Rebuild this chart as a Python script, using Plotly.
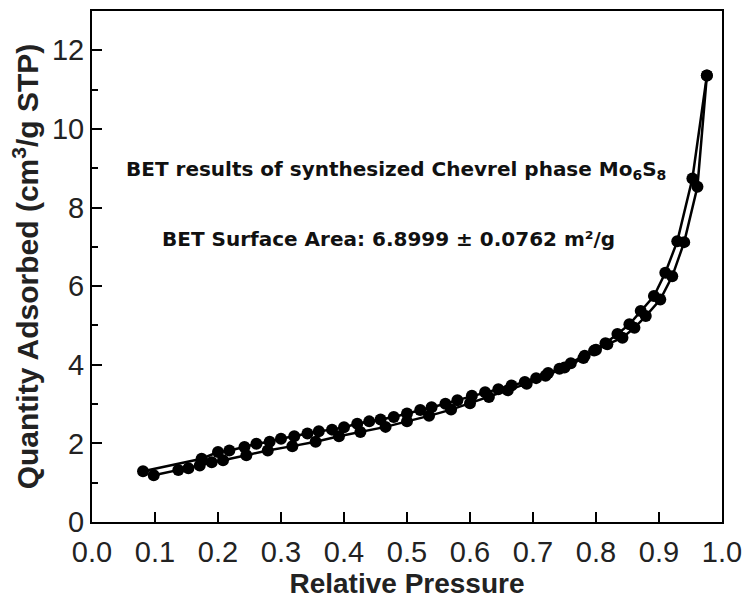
import plotly.graph_objects as go

# Nitrogen physisorption isotherm of Mo6S8 (Chevrel phase)
p_ads = [0.098, 0.137, 0.153, 0.171, 0.190, 0.208, 0.245, 0.279, 0.318, 0.355,
         0.392, 0.426, 0.466, 0.500, 0.535, 0.570, 0.600, 0.630, 0.660, 0.690,
         0.720, 0.750, 0.780, 0.800, 0.818, 0.842, 0.861, 0.879, 0.902, 0.921,
         0.940, 0.961, 0.976]
q_ads = [1.19, 1.32, 1.37, 1.44, 1.52, 1.57, 1.70, 1.82, 1.93, 2.04,
         2.18, 2.29, 2.42, 2.56, 2.70, 2.86, 3.02, 3.18, 3.35, 3.52,
         3.72, 3.93, 4.17, 4.38, 4.52, 4.69, 4.94, 5.24, 5.66, 6.25,
         7.12, 8.53, 11.36]

p_des = [0.976, 0.953, 0.929, 0.910, 0.892, 0.871, 0.853, 0.834, 0.815, 0.797,
         0.782, 0.760, 0.742, 0.724, 0.705, 0.687, 0.666, 0.645, 0.624, 0.603,
         0.580, 0.561, 0.539, 0.521, 0.500, 0.479, 0.458, 0.440, 0.421, 0.400,
         0.381, 0.360, 0.342, 0.321, 0.300, 0.282, 0.261, 0.242, 0.218, 0.200,
         0.174, 0.081]
q_des = [11.36, 8.74, 7.14, 6.34, 5.75, 5.37, 5.03, 4.78, 4.55, 4.36,
         4.23, 4.04, 3.90, 3.79, 3.66, 3.56, 3.47, 3.38, 3.30, 3.21,
         3.10, 3.01, 2.92, 2.85, 2.76, 2.67, 2.61, 2.56, 2.50, 2.41,
         2.35, 2.31, 2.25, 2.18, 2.12, 2.04, 1.99, 1.91, 1.82, 1.78,
         1.61, 1.29]

x_ticks = [round(0.1 * i, 1) for i in range(11)]
y_ticks = [0, 2, 4, 6, 8, 10, 12]

FONT = "Liberation Sans, Arial, sans-serif"
WIDE_BOLD = "DejaVu Sans, Liberation Sans, sans-serif"

fig = go.Figure()
for px, qy, name in [(p_ads, q_ads, "Adsorption"), (p_des, q_des, "Desorption")]:
    fig.add_trace(go.Scatter(
        x=px, y=qy, name=name, mode="lines+markers",
        line=dict(color="black", width=2.5),
        marker=dict(symbol="circle", size=12, color="black"),
        showlegend=False,
    ))

axis_common = dict(
    showline=True, linecolor="black", linewidth=2, mirror=True,
    ticks="inside", ticklen=10, tickwidth=2, tickcolor="black",
    showgrid=False, zeroline=False,
    tickfont=dict(family=FONT, size=29, color="#222"),
)

fig.update_xaxes(
    range=[0, 1], tickvals=x_ticks, ticktext=[f"{v:.1f}" for v in x_ticks],
    ticklabelstandoff=3,
    title=dict(text="<b>Relative Pressure</b>", font=dict(family=FONT, size=28, color="#222"), standoff=2),
    **axis_common,
)
fig.update_yaxes(
    range=[0, 13], tickvals=y_ticks,
    minor=dict(dtick=1, ticks="inside", ticklen=6, tickwidth=2, tickcolor="black"),
    title=dict(text="<b>Quantity Adsorbed (cm<sup>3</sup>/g STP)</b>", font=dict(family=FONT, size=30, color="#222"), standoff=4),
    **axis_common,
)

fig.add_annotation(
    x=0.483, y=8.96, xref="x", yref="y", showarrow=False,
    text="<b>BET results of synthesized Chevrel phase Mo<sub>6</sub>S<sub>8</sub></b>",
    font=dict(family=WIDE_BOLD, size=20, color="#111"),
)
fig.add_annotation(
    x=0.471, y=7.19, xref="x", yref="y", showarrow=False,
    text="<b>BET Surface Area: 6.8999 ± 0.0762 m²/g</b>",
    font=dict(family=WIDE_BOLD, size=20, color="#111"),
)

fig.update_layout(
    width=751, height=602,
    margin=dict(l=92, r=26, t=9, b=80),
    paper_bgcolor="white", plot_bgcolor="white",
)

fig.write_html("out.html")
